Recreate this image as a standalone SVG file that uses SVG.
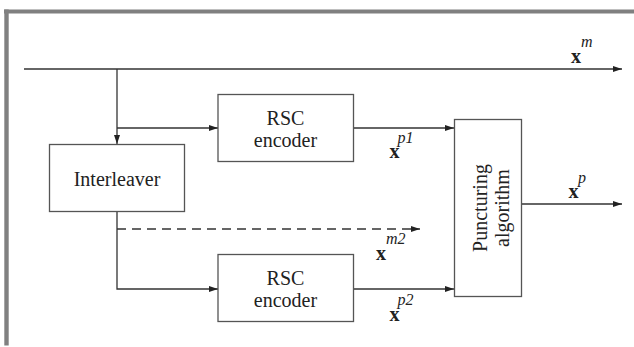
<svg xmlns="http://www.w3.org/2000/svg" width="634" height="347" viewBox="0 0 634 347">
<style>
.frame{fill:#808080;stroke:none}
.box{fill:#fff;stroke:#555;stroke-width:1.3}
.ln{fill:none;stroke:#333;stroke-width:1.3}
.dash{stroke-dasharray:9 6}
.t{font-size:20px;fill:#222;text-anchor:middle}
.xb{font-size:20px;font-weight:bold;fill:#222}
.sup{font-size:16px;font-style:italic;fill:#222}
</style>
<defs>
<marker id="ah" markerWidth="9" markerHeight="6" refX="9" refY="3" orient="auto" markerUnits="userSpaceOnUse">
<path d="M0,0 L9,3 L0,6 z" fill="#222"/>
</marker>
</defs>
<rect class="frame" x="4" y="9.5" width="630" height="4"/>
<rect class="frame" x="4.3" y="9.5" width="4.4" height="336"/>

<g id="connectors">
<path class="ln" d="M24,69 H622" marker-end="url(#ah)"/>
<path class="ln" d="M117,69 V144" marker-end="url(#ah)"/>
<path class="ln" d="M117,128 H218" marker-end="url(#ah)"/>
<path class="ln" d="M353,128 H454" marker-end="url(#ah)"/>
<path class="ln" d="M117,212 V289 H218" marker-end="url(#ah)"/>
<path class="ln dash" d="M117,229 H420" marker-end="url(#ah)"/>
<path class="ln" d="M353,289 H454" marker-end="url(#ah)"/>
<path class="ln" d="M522,204 H622" marker-end="url(#ah)"/>
</g>

<g font-family="Liberation Serif, Times New Roman, serif">
<g id="rsc1">
<rect class="box" x="218" y="94.5" width="135.5" height="67"/>
<text class="t" x="285.5" y="124.5">RSC</text>
<text class="t" x="285.5" y="146.5">encoder</text>
</g>
<g id="interleaver">
<rect class="box" x="49.5" y="144.5" width="135" height="67"/>
<text class="t" x="117" y="185.5">Interleaver</text>
</g>
<g id="rsc2">
<rect class="box" x="218" y="254.5" width="135.5" height="67"/>
<text class="t" x="285.5" y="284.5">RSC</text>
<text class="t" x="285.5" y="306.5">encoder</text>
</g>
<g id="puncturing">
<rect class="box" x="454.5" y="119.5" width="67" height="177"/>
<text class="t" transform="translate(486.5,208) rotate(-90)" x="0" y="0">Puncturing</text>
<text class="t" transform="translate(508.5,208) rotate(-90)" x="0" y="0">algorithm</text>
</g>

<g id="labels">
<text class="xb" x="571" y="62.5">x</text><text class="sup" x="581" y="46.5">m</text>
<text class="xb" x="389.5" y="157.5">x</text><text class="sup" x="397.5" y="143">p1</text>
<text class="xb" x="376" y="259.5">x</text><text class="sup" x="386" y="243.5">m2</text>
<text class="xb" x="389.5" y="320.5">x</text><text class="sup" x="397.5" y="305">p2</text>
<text class="xb" x="568.5" y="197.5">x</text><text class="sup" x="578" y="182.5">p</text>
</g>
</g>
</svg>
